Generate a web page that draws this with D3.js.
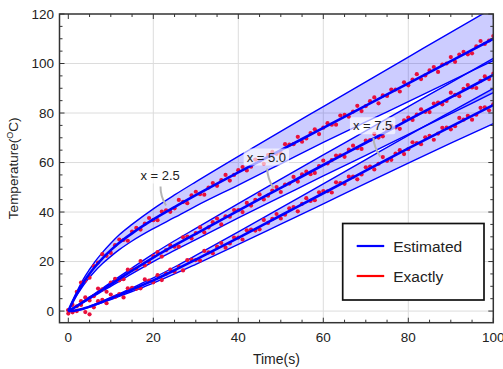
<!DOCTYPE html>
<html>
<head>
<meta charset="utf-8">
<script src="https://cdn.jsdelivr.net/npm/d3@7"></script>
<style>
  body { margin: 0; background: #fff; }
  svg { display: block; font-family: "Liberation Sans", Arial, sans-serif; }
</style>
</head>
<body>
<svg id="chart" width="503" height="369"></svg>
<script>
// Time grid (s) for the estimated curves and their bands
const tGrid = [0, 1, 2, 3, 4, 5, 6, 8, 10, 12, 15, 20, 25, 30, 40, 50, 60, 70, 80, 90, 100];

// x = 2.5
const est25 = [0, 3.7, 7.0, 10.0, 12.7, 15.1, 17.3, 21.2, 24.6, 27.6, 31.4, 37.0, 42.0, 46.8, 56, 65, 74, 83, 92, 101, 110];
const hi25  = [0, 4.1, 7.8, 11.2, 14.2, 16.8, 19.3, 23.6, 27.4, 30.8, 35.0, 41.3, 46.9, 52.2, 62.5, 72.6, 82.6, 92.6, 102.6, 112.6, 122.5];
const lo25  = [0, 3.3, 6.3, 9.0, 11.4, 13.6, 15.6, 19.1, 22.1, 24.8, 28.3, 33.3, 37.8, 42.4, 50.9, 59.5, 68.1, 76.4, 84.6, 92.9, 101.2];

// x = 5.0
const est50 = [0, 1.0, 2.0, 3.1, 4.2, 5.3, 6.4, 8.6, 10.8, 13.0, 16.3, 21.6, 26.5, 31.2, 40.6, 49.8, 59.0, 68.0, 77.2, 86.3, 95.4];
const hi50  = [0, 1.07, 2.14, 3.3, 4.5, 5.7, 6.8, 9.2, 11.6, 13.9, 17.4, 23.1, 28.4, 33.4, 43.4, 53.3, 63.1, 72.8, 82.6, 92.3, 102.1];
const lo50  = [0, 0.93, 1.85, 2.9, 3.9, 4.9, 5.9, 8.0, 10.0, 12.0, 15.1, 20.0, 24.5, 28.9, 37.6, 46.1, 54.6, 62.9, 71.4, 79.8, 88.2];

// x = 7.5
const est75 = [0, 0.05, 0.3, 0.7, 1.2, 1.8, 2.4, 3.7, 5.1, 6.5, 8.7, 12.4, 16.5, 20.8, 29.6, 38.6, 47.6, 56.7, 65.7, 74.5, 83.2];
const hi75  = [0, 0.05, 0.32, 0.76, 1.3, 1.9, 2.6, 4.0, 5.5, 7.0, 9.4, 13.4, 17.8, 22.5, 32.0, 41.7, 51.4, 61.2, 71.0, 80.5, 89.9];
const lo75  = [0, 0.05, 0.27, 0.64, 1.1, 1.6, 2.2, 3.4, 4.6, 5.9, 7.9, 11.3, 15.0, 18.9, 26.9, 35.1, 43.3, 51.6, 59.8, 67.8, 75.7];

// Exact temperatures, one sample per second (t = 0 … 100 s)
const exact25 = [0.3, 2.5, 7.8, 11.5, 12.3, 13.5, 18.2, 19.6, 23.0, 22.3, 23.5, 26.6, 28.9, 28.7, 28.4, 32.1, 33.6, 32.9, 35.3, 37.6,
  36.7, 36.7, 40.2, 40.7, 40.1, 41.5, 44.9, 44.1, 43.6, 46.7, 48.2, 47.2, 47.0, 49.9, 51.7, 50.6, 52.9, 55.0, 52.7, 55.0,
  56.9, 58.2, 56.8, 58.3, 61.2, 60.7, 59.5, 63.0, 64.3, 63.5, 63.8, 67.4, 67.2, 67.4, 70.4, 68.4, 69.7, 71.9, 73.4, 71.5,
  74.1, 75.9, 75.3, 75.3, 79.0, 79.3, 78.5, 80.6, 82.9, 80.8, 82.8, 84.8, 86.3, 83.9, 87.1, 86.9, 89.5, 89.5, 88.7, 92.4,
  91.2, 93.5, 95.7, 93.7, 95.2, 97.2, 98.6, 96.6, 99.6, 100.0, 102.6, 100.7, 103.6, 104.7, 103.7, 104.1, 106.9, 109.1, 107.9, 109.3,
  111.1];
const exact50 = [0.4, -0.5, 1.9, 4.0, 5.5, 4.3, 6.0, 9.1, 8.8, 7.8, 11.5, 13.0, 12.4, 12.9, 16.7, 16.7, 17.1, 20.2, 18.4, 19.8,
  22.2, 23.8, 22.0, 24.6, 26.5, 26.0, 26.0, 29.8, 30.1, 29.4, 31.5, 33.8, 31.8, 33.8, 35.9, 37.4, 35.0, 38.3, 38.1, 40.8,
  40.8, 40.0, 43.7, 42.6, 44.9, 47.1, 45.1, 46.6, 48.7, 50.1, 48.1, 51.1, 51.5, 54.2, 52.3, 55.2, 56.3, 55.3, 55.8, 58.6,
  60.8, 59.6, 61.0, 62.8, 62.9, 62.3, 65.2, 66.8, 65.8, 65.5, 68.9, 69.1, 71.6, 70.1, 70.6, 73.1, 74.8, 74.2, 73.6, 77.0,
  78.2, 77.2, 79.4, 81.5, 80.5, 80.4, 83.8, 84.2, 83.5, 84.9, 88.2, 87.3, 86.8, 89.8, 91.3, 90.3, 90.1, 93.0, 94.8, 93.7,
  95.9];
const exact75 = [-1.0, 0.3, 0.0, 2.5, -0.4, -1.3, 1.5, 4.0, 4.5, 3.2, 6.7, 5.7, 6.9, 5.5, 9.2, 9.4, 9.0, 9.2, 12.8, 12.3,
  11.6, 14.5, 12.5, 15.1, 16.8, 15.9, 17.9, 16.4, 20.6, 20.8, 20.6, 20.4, 24.3, 23.7, 23.4, 26.0, 27.5, 25.6, 27.3, 29.7,
  29.7, 28.9, 32.6, 32.9, 32.5, 33.0, 36.8, 35.6, 37.2, 39.2, 37.4, 38.9, 41.5, 42.0, 40.3, 43.3, 45.6, 44.5, 44.8, 48.0,
  48.5, 48.4, 47.9, 52.0, 51.7, 51.4, 54.3, 54.3, 53.2, 55.2, 58.1, 58.4, 57.2, 59.5, 62.2, 60.7, 61.1, 63.6, 65.0, 63.4,
  65.4, 68.2, 67.9, 67.4, 70.2, 70.8, 69.2, 71.7, 74.0, 74.1, 73.4, 74.7, 78.0, 77.3, 78.9, 77.3, 79.3, 82.1, 82.3, 81.1,
  83.5];

const xTicks = [0, 20, 40, 60, 80, 100];
const yTicks = [0, 20, 40, 60, 80, 100, 120];
const seriesLabels = ["x = 2.5", "x = 5.0", "x = 7.5"];
const legendLabels = ["Estimated", "Exactly"];

const series = [
  { est: est25, lo: lo25, hi: hi25, exact: exact25 },
  { est: est50, lo: lo50, hi: hi50, exact: exact50 },
  { est: est75, lo: lo75, hi: hi75, exact: exact75 }
];

// ---- layout ----
const W = 503, H = 369;
const m = { left: 59.5, right: 9.7, top: 14, bottom: 46.3 };
const pw = W - m.left - m.right, ph = H - m.top - m.bottom;

const x = d3.scaleLinear().domain([-2.07, 100]).range([0, pw]);
const y = d3.scaleLinear().domain([-4.7, 120]).range([ph, 0]);

const svg = d3.select("#chart");
const g = svg.append("g").attr("transform", `translate(${m.left},${m.top})`);

svg.append("defs").append("clipPath").attr("id", "plotClip")
  .append("rect").attr("width", pw).attr("height", ph);

// grid
g.append("g").selectAll("line").data(xTicks.filter(v => v > 0 && v < 100)).join("line")
  .attr("x1", d => x(d)).attr("x2", d => x(d)).attr("y1", 0).attr("y2", ph)
  .attr("stroke", "#dcdcdc").attr("stroke-width", 1);
g.append("g").selectAll("line").data(yTicks.filter(v => v < 120)).join("line")
  .attr("x1", 0).attr("x2", pw).attr("y1", d => y(d)).attr("y2", d => y(d))
  .attr("stroke", "#dcdcdc").attr("stroke-width", 1);

const plot = g.append("g").attr("clip-path", "url(#plotClip)");

const curve = d3.curveMonotoneX;
const area = d3.area().x((d, i) => x(tGrid[i])).y0(d => y(d[0])).y1(d => y(d[1])).curve(curve);
const line = d3.line().x((d, i) => x(tGrid[i])).y(d => y(d)).curve(curve);

// confidence bands
series.forEach(s => {
  plot.append("path")
    .datum(s.lo.map((v, i) => [v, s.hi[i]]))
    .attr("d", area)
    .attr("fill", "rgb(0,0,255)").attr("fill-opacity", 0.2);
});
series.forEach(s => {
  [s.lo, s.hi].forEach(b => {
    plot.append("path").datum(b).attr("d", line)
      .attr("fill", "none").attr("stroke", "#0000ff").attr("stroke-width", 1.4);
  });
});
// exact samples
series.forEach(s => {
  plot.append("g").selectAll("circle").data(s.exact).join("circle")
    .attr("cx", (d, i) => x(i)).attr("cy", d => y(d)).attr("r", 2.1)
    .attr("fill", "#e8103c");
});
// estimated curves
series.forEach(s => {
  plot.append("path").datum(s.est).attr("d", line)
    .attr("fill", "none").attr("stroke", "#0000ff").attr("stroke-width", 2.6);
});

// ---- axes ----
const axisColor = "#333";
const minorX = d3.range(0, 101, 5), minorY = d3.range(0, 121, 5);
const tickG = g.append("g").attr("stroke", axisColor).attr("stroke-width", 1);
minorX.forEach(v => {
  const len = v % 20 === 0 ? 5 : 3;
  tickG.append("line").attr("x1", x(v)).attr("x2", x(v)).attr("y1", ph).attr("y2", ph - len);
  tickG.append("line").attr("x1", x(v)).attr("x2", x(v)).attr("y1", 0).attr("y2", len);
});
minorY.forEach(v => {
  const len = v % 20 === 0 ? 5 : 3;
  tickG.append("line").attr("x1", 0).attr("x2", len).attr("y1", y(v)).attr("y2", y(v));
  tickG.append("line").attr("x1", pw).attr("x2", pw - len).attr("y1", y(v)).attr("y2", y(v));
});
g.append("rect").attr("width", pw).attr("height", ph)
  .attr("fill", "none").attr("stroke", axisColor).attr("stroke-width", 1.5);

g.append("g").selectAll("text").data(xTicks).join("text")
  .attr("x", d => x(d)).attr("y", ph + 19.5)
  .attr("text-anchor", "middle").attr("font-size", 13.5).attr("fill", "#222")
  .text(d => d);
g.append("g").selectAll("text").data(yTicks).join("text")
  .attr("x", -5.5).attr("y", d => y(d) + 4.8)
  .attr("text-anchor", "end").attr("font-size", 13.5).attr("fill", "#222")
  .text(d => d);

g.append("text").attr("x", pw / 2).attr("y", ph + 41.5)
  .attr("text-anchor", "middle").attr("font-size", 14).attr("fill", "#222")
  .text("Time(s)");

const yl = g.append("text")
  .attr("transform", `translate(${-42},${ph / 2}) rotate(-90)`)
  .attr("text-anchor", "middle").attr("font-size", 13.5).attr("fill", "#222");
yl.append("tspan").text("Temperature(");
yl.append("tspan").attr("font-size", 9).attr("dy", -5).text("O");
yl.append("tspan").attr("dy", 5).text("C)");

// ---- series annotations ----
const notes = [
  { label: seriesLabels[0], tx: 21.6, ty: 53.1, from: [21.7, 50.3], to: [23.0, 42.6], bend: -3 },
  { label: seriesLabels[1], tx: 46.6, ty: 60.4, from: [46.8, 57.6], to: [48.3, 49.6], bend: -3 },
  { label: seriesLabels[2], tx: 71.6, ty: 73.0, from: [71.8, 70.0], to: [73.4, 62.4], bend: -3 }
];
const noteG = g.append("g");
notes.forEach(n => {
  const x0 = x(n.from[0]), y0 = y(n.from[1]), x1 = x(n.to[0]), y1 = y(n.to[1]);
  const cx = (x0 + x1) / 2 + n.bend, cy = (y0 + y1) / 2;
  noteG.append("path").attr("d", `M${x0},${y0} Q${cx},${cy} ${x1},${y1}`)
    .attr("fill", "none").attr("stroke", "#b4b4b4").attr("stroke-width", 2);
  const t = noteG.append("text").attr("x", x(n.tx)).attr("y", y(n.ty))
    .attr("text-anchor", "middle").attr("font-size", 13).attr("fill", "#222").text(n.label);
  const bb = t.node().getBBox();
  noteG.insert("rect", () => t.node())
    .attr("x", bb.x - 3).attr("y", bb.y - 1).attr("width", bb.width + 6).attr("height", bb.height + 2)
    .attr("rx", 2).attr("fill", "#fff").attr("fill-opacity", 0.65);
});

// ---- legend ----
const lg = svg.append("g").attr("transform", "translate(342.7,223.5)");
lg.append("rect").attr("width", 141.3).attr("height", 76.5)
  .attr("fill", "#fff").attr("stroke", "#111").attr("stroke-width", 1.7);
const legendColors = ["#0000ff", "#ff0000"];
legendLabels.forEach((lab, i) => {
  const yy = 22.5 + i * 30;
  lg.append("line").attr("x1", 14).attr("x2", 41.5).attr("y1", yy).attr("y2", yy)
    .attr("stroke", legendColors[i]).attr("stroke-width", 2.2);
  lg.append("text").attr("x", 50.5).attr("y", yy + 5.5)
    .attr("font-size", 15.5).attr("fill", "#222").text(lab);
});
</script>
</body>
</html>
